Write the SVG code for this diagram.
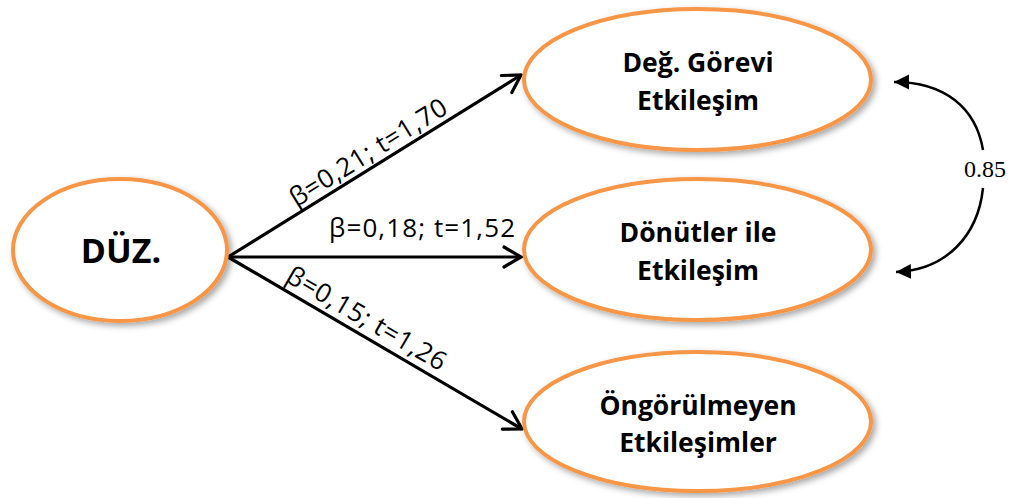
<svg xmlns="http://www.w3.org/2000/svg" width="1018" height="498" viewBox="0 0 1018 498">
<style>
.node ellipse{fill:#fff;stroke:#F79646;stroke-width:4;filter:url(#sh)}
.nt{font-family:"Open Sans","Noto Sans",sans-serif;font-weight:bold;font-size:26.5px;fill:#000;text-anchor:middle}
.lbl{font-family:"Open Sans","Noto Sans",sans-serif;font-size:26px;fill:#000;text-anchor:middle}
.conn{stroke:#000;stroke-width:3.2;fill:none}
.corr{stroke:#000;stroke-width:2.5;fill:none}
.cv{font-family:"Liberation Serif","Times New Roman",serif;font-size:24px;fill:#000}
</style>
<defs>
<filter id="sh" x="-10%" y="-10%" width="125%" height="130%">
<feDropShadow dx="3" dy="3" stdDeviation="3" flood-color="#000" flood-opacity="0.35"/>
</filter>
<marker id="open" markerUnits="userSpaceOnUse" viewBox="-20 -12 22 24" refX="0" refY="0" markerWidth="22" markerHeight="24" orient="auto">
<path d="M-17,-10 L0,0 L-17,10" fill="none" stroke="#000" stroke-width="3.2" stroke-linecap="round" stroke-linejoin="miter"/>
</marker>
<marker id="tri" markerUnits="userSpaceOnUse" viewBox="-15 -8 16 16" refX="0" refY="0" markerWidth="16" markerHeight="16" orient="auto">
<path d="M-15,-7.5 L0,0 L-15,7.5 Z" fill="#000"/>
</marker>
</defs>
<rect width="1018" height="498" fill="#fff"/>

<g id="connectors">
<line class="conn" x1="228" y1="257" x2="521" y2="75" marker-end="url(#open)"/>
<line class="conn" x1="228" y1="257" x2="521" y2="257" marker-end="url(#open)"/>
<line class="conn" x1="228" y1="257" x2="522" y2="429" marker-end="url(#open)"/>
<path class="corr" d="M983,150 C976,108 945,82 894,82" marker-end="url(#tri)"/>
<path class="corr" d="M983,188 C978,236 946,270 896,272" marker-end="url(#tri)"/>
<g transform="translate(376,165) rotate(-31.85)"><text class="lbl" x="0" y="-6" textLength="180" lengthAdjust="spacing">β=0,21; t=1,70</text></g>
<text class="lbl" x="422" y="237" textLength="186" lengthAdjust="spacing">β=0,18; t=1,52</text>
<g transform="translate(358,333) rotate(30.25)"><text class="lbl" x="0" y="-8" textLength="180" lengthAdjust="spacing">β=0,15; t=1,26</text></g>
<text class="cv" x="964" y="177">0.85</text>
</g>

<g id="duz" class="node">
<ellipse cx="120" cy="250" rx="107" ry="71"/>
<text class="nt" x="121" y="263" style="font-size:34px">DÜZ.</text>
</g>

<g id="deg" class="node">
<ellipse cx="697.5" cy="79.5" rx="173.5" ry="70.5"/>
<text class="nt" x="698" y="72">Değ. Görevi</text>
<text class="nt" x="698" y="110">Etkileşim</text>
</g>

<g id="donutler" class="node">
<ellipse cx="697.5" cy="249.5" rx="173.5" ry="70.5"/>
<text class="nt" x="698" y="242">Dönütler ile</text>
<text class="nt" x="698" y="280">Etkileşim</text>
</g>

<g id="ongorulmeyen" class="node">
<ellipse cx="697.5" cy="421.5" rx="173.5" ry="69.5"/>
<text class="nt" x="698" y="415">Öngörülmeyen</text>
<text class="nt" x="698" y="452">Etkileşimler</text>
</g>
</svg>
